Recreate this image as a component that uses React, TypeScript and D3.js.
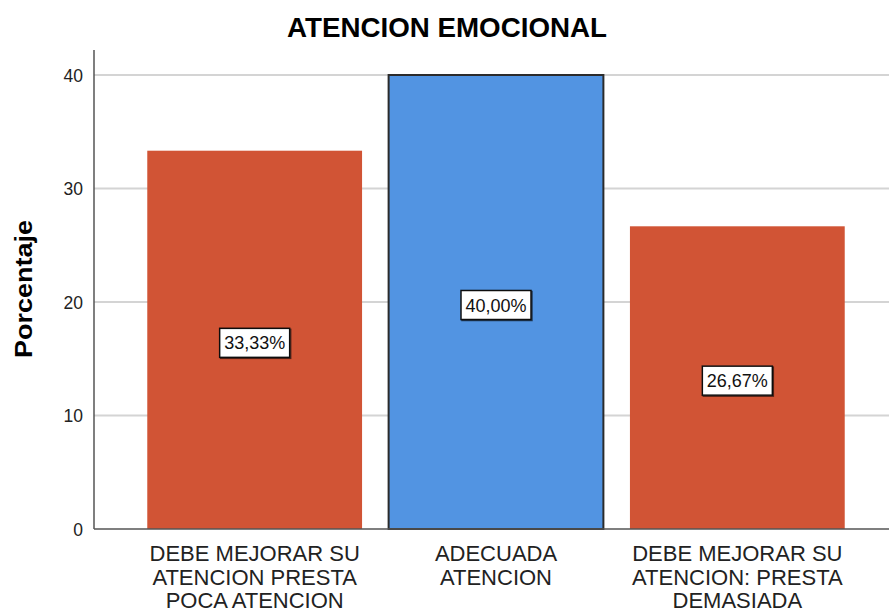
import React from "react";
import * as d3 from "d3";

const categories = [
  ["DEBE MEJORAR SU", "ATENCION PRESTA", "POCA ATENCION"],
  ["ADECUADA", "ATENCION"],
  ["DEBE MEJORAR SU", "ATENCION: PRESTA", "DEMASIADA"],
];
const values = [33.33, 40.0, 26.67];
const valueLabels = ["33,33%", "40,00%", "26,67%"];
const barColors = ["#D15435", "#5294E2", "#D15435"];
const highlighted = [false, true, false];
const yTicks = [0, 10, 20, 30, 40];
const title = "ATENCION EMOCIONAL";
const yTitle = "Porcentaje";

const W = 889;
const H = 614;
const font = "'Liberation Sans', Arial, sans-serif";

export default function App() {
  const y = d3.scaleLinear().domain([0, 40]).range([529, 75]);
  const x = d3
    .scaleBand<number>()
    .domain(values.map((_, i) => i))
    .range([134, 858])
    .paddingInner(0.11)
    .paddingOuter(0.055);
  const axisX = 94;
  const plotRight = 889;
  const bw = x.bandwidth();

  return (
    <svg width={W} height={H} style={{ position: "absolute", left: 0, top: 0, background: "#fff" }}>
      <defs>
        <filter id="sh" x="-20%" y="-20%" width="140%" height="140%">
          <feDropShadow dx="1" dy="1" stdDeviation="0.6" floodColor="#000" floodOpacity="0.6" />
        </filter>
      </defs>
      <rect width={W} height={H} fill="#fff" />
      <text
        x={447}
        y={37}
        textAnchor="middle"
        fontFamily={font}
        fontWeight="bold"
        fontSize={27.5}
        fill="#000"
        textLength={320}
        lengthAdjust="spacingAndGlyphs"
      >
        {title}
      </text>
      {yTicks.filter((t) => t > 0).map((t) => (
        <line key={t} x1={axisX} x2={plotRight} y1={y(t)} y2={y(t)} stroke="#d4d4d4" strokeWidth={2} />
      ))}
      {values.map((v, i) => {
        const x0 = x(i)!;
        return (
          <rect
            key={i}
            x={x0}
            y={y(v)}
            width={bw}
            height={y(0) - y(v)}
            fill={barColors[i]}
            stroke={highlighted[i] ? "#2b2b2b" : "none"}
            strokeWidth={highlighted[i] ? 2 : 0}
          />
        );
      })}
      <line x1={axisX} x2={plotRight} y1={y(0)} y2={y(0)} stroke="#555" strokeWidth={1.5} />
      <line x1={axisX} x2={axisX} y1={50} y2={y(0)} stroke="#555" strokeWidth={1.5} />
      {yTicks.map((t) => (
        <text key={t} x={83} y={y(t) + 6.5} textAnchor="end" fontFamily={font} fontSize={17.5} fill="#222">
          {t}
        </text>
      ))}
      <text
        transform={`translate(32,289) rotate(-90)`}
        textAnchor="middle"
        fontFamily={font}
        fontWeight="bold"
        fontSize={24}
        fill="#000"
        textLength={138}
        lengthAdjust="spacingAndGlyphs"
      >
        {yTitle}
      </text>
      {values.map((v, i) => {
        const cx = x(i)! + bw / 2;
        const cy = y(v / 2) + 3;
        const bwid = 70;
        const bh = 29;
        return (
          <g key={i}>
            <rect
              x={cx - bwid / 2}
              y={cy - bh / 2}
              width={bwid}
              height={bh}
              fill="#fff"
              stroke="#111"
              strokeWidth={1.5}
              filter="url(#sh)"
            />
            <text x={cx} y={cy + 6.5} textAnchor="middle" fontFamily={font} fontSize={18} fill="#111">
              {valueLabels[i]}
            </text>
          </g>
        );
      })}
      {categories.map((lines, i) => {
        const cx = x(i)! + bw / 2;
        return (
          <text key={i} textAnchor="middle" fontFamily={font} fontSize={22} fill="#222">
            {lines.map((l, j) => (
              <tspan key={j} x={cx} y={561 + j * 23.5}>
                {l}
              </tspan>
            ))}
          </text>
        );
      })}
    </svg>
  );
}
